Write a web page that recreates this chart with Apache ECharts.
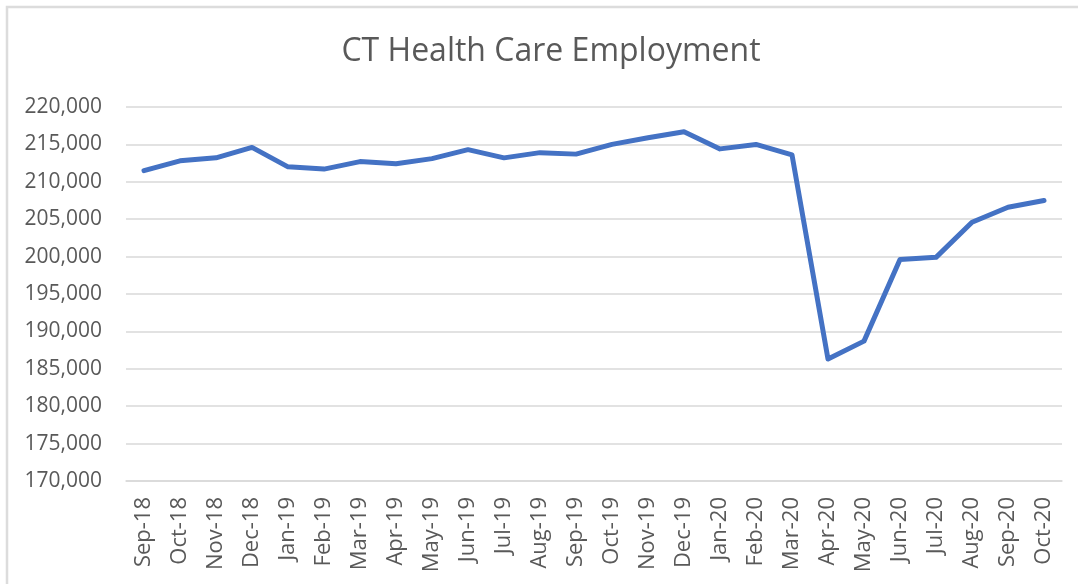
<!DOCTYPE html>
<html>
<head>
<meta charset="utf-8">
<title>CT Health Care Employment</title>
<script src="https://cdn.jsdelivr.net/npm/echarts@6/dist/echarts.min.js"></script>
<style>
  html, body { margin: 0; padding: 0; background: #fff; }
  #main { width: 1078px; height: 584px; }
</style>
</head>
<body>
<div id="main"></div>
<script>
// months on the x axis
var months = ['Sep-18', 'Oct-18', 'Nov-18', 'Dec-18', 'Jan-19', 'Feb-19', 'Mar-19', 'Apr-19',
    'May-19', 'Jun-19', 'Jul-19', 'Aug-19', 'Sep-19', 'Oct-19', 'Nov-19', 'Dec-19',
    'Jan-20', 'Feb-20', 'Mar-20', 'Apr-20', 'May-20', 'Jun-20', 'Jul-20', 'Aug-20',
    'Sep-20', 'Oct-20'];

// employment
var employment = [211500, 212800, 213200, 214600, 212000, 211700, 212700, 212400,
    213100, 214300, 213200, 213900, 213700, 215000, 215900, 216700,
    214400, 215000, 213600, 186300, 188700, 199600, 199900, 204600,
    206600, 207500];

var yMin = 170000;
var yMax = 220000;
var yStep = 5000;

var myChart = echarts.init(document.getElementById('main'));

var option = {
    backgroundColor: '#fff',
    animation: false,
    textStyle: { fontFamily: 'Open Sans' },
    title: {
        text: 'CT Health Care Employment',
        left: 546,
        top: 31,
        textAlign: 'center',
        textStyle: {
            color: '#595959',
            fontSize: 32,
            fontWeight: 'normal',
            fontFamily: 'Open Sans'
        }
    },
    graphic: [{
        type: 'rect',
        shape: { x: 7, y: 7, width: 1100, height: 600 },
        style: { fill: 'none', stroke: '#dcdcdc', lineWidth: 2.5 },
        silent: true
    }],
    grid: {
        left: 126,
        right: 16,
        top: 107,
        bottom: 103
    },
    xAxis: {
        type: 'category',
        data: months,
        boundaryGap: true,
        axisLine: { show: true, lineStyle: { color: '#d9d9d9', width: 1.5 } },
        axisTick: { show: false },
        axisLabel: {
            interval: 0,
            rotate: 90,
            margin: 16,
            color: '#595959',
            fontSize: 22,
            fontFamily: 'Open Sans'
        }
    },
    yAxis: {
        type: 'value',
        min: yMin,
        max: yMax,
        interval: yStep,
        axisLine: { show: false },
        axisTick: { show: false },
        splitLine: { lineStyle: { color: '#d9d9d9', width: 1.5 } },
        axisLabel: {
            margin: 24,
            color: '#595959',
            fontSize: 21,
            fontFamily: 'Open Sans',
            formatter: function (v) { return v.toLocaleString('en-US'); }
        }
    },
    series: [{
        name: 'Employment',
        type: 'line',
        data: employment,
        showSymbol: false,
        symbol: 'none',
        lineStyle: { color: '#4472C4', width: 5, cap: 'round', join: 'round' }
    }]
};

myChart.setOption(option);
</script>
</body>
</html>
